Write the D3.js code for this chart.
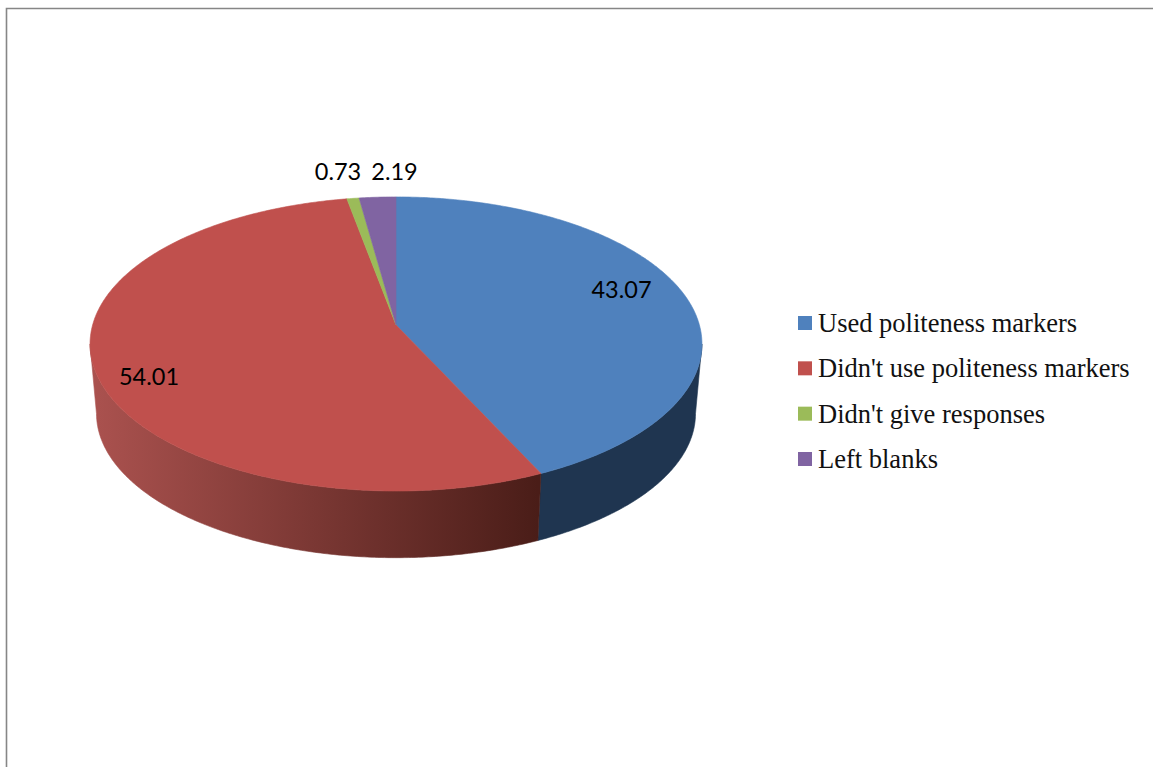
<!DOCTYPE html>
<html>
<head>
<meta charset="utf-8">
<script src="https://cdn.jsdelivr.net/npm/d3@7/dist/d3.min.js"></script>
<style>
  html, body { margin: 0; padding: 0; background: #fff; overflow: hidden; }
  svg { display: block; }
</style>
</head>
<body>
<svg id="chart" width="1153" height="767"></svg>
<script>
const categories = ["Used politeness markers", "Didn't use politeness markers", "Didn't give responses", "Left blanks"];
const values = [43.07, 54.01, 0.73, 2.19];
const sliceColors = ["#4f81bd", "#c0504d", "#9bbb59", "#8064a2"];

const svg = d3.select("#chart");

// Chart-area border: only the top and left edges fall inside the page.
svg.append("path")
  .attr("d", "M6.5,767V8.5H1153")
  .attr("fill", "none")
  .attr("stroke", "#868686")
  .attr("stroke-width", 1.6);

// Perspective projection of the unit disc onto the tilted pie.
const tilt = 0.129;
const topFace = { cx: 396, cy: 325, rx: 303.4, ry: 144.6 };
const baseFace = { cx: 396, cy: 395, rx: 297, ry: 141.7 };
const project = (face, angle) => {
  const u = Math.sin(angle), v = -Math.cos(angle), w = 1 - tilt * v;
  return [face.cx + face.rx * u / w, face.cy + face.ry * v / w];
};
const sweep = (face, a0, a1) => {
  const n = Math.max(2, Math.ceil(Math.abs(a1 - a0) / 0.01));
  return d3.range(n + 1).map(i => project(face, a0 + (a1 - a0) * i / n));
};

const arcs = d3.pie().sort(null).value(d => d)(values);
const line = d3.line();

// Shading along the rim of the large slice.
const rimColor = d3.scaleLinear().domain([90, 538]).range(["#ab524f", "#4a1d18"]);
const grad = svg.append("defs").append("linearGradient")
  .attr("id", "rimShade")
  .attr("gradientUnits", "userSpaceOnUse")
  .attr("x1", rimColor.domain()[0]).attr("x2", rimColor.domain()[1])
  .attr("y1", 0).attr("y2", 0);
grad.selectAll("stop").data(rimColor.domain()).join("stop")
  .attr("offset", (d, i) => i)
  .attr("stop-color", d => rimColor(d));

// Rim walls: only the front half of the disc is visible.
const silhouette = Math.acos(-tilt);
const frontStart = silhouette, frontEnd = 2 * Math.PI - silhouette;
const rimFill = ["#1f3550", "url(#rimShade)"];
arcs.slice(0, 2).forEach((a, i) => {
  const a0 = Math.max(a.startAngle, frontStart), a1 = Math.min(a.endAngle, frontEnd);
  const pts = sweep(topFace, a0, a1).concat(sweep(baseFace, a1, a0));
  svg.append("path").attr("d", line(pts) + "Z")
    .attr("fill", rimFill[i])
    .attr("stroke", rimFill[i])
    .attr("stroke-width", 0.6);
});

// Top faces of the slices; a hairline of the slice colour hides the seams.
svg.append("g").selectAll("path").data(arcs).join("path")
  .attr("d", a => line([[topFace.cx, topFace.cy], ...sweep(topFace, a.startAngle, a.endAngle)]) + "Z")
  .attr("fill", (a, i) => sliceColors[i])
  .attr("stroke", (a, i) => sliceColors[i])
  .attr("stroke-width", 0.6);

// Value labels.
const labelAnchors = [[621.5, 298], [149, 385], [338, 180], [394.5, 180]];
svg.append("g").selectAll("text").data(values).join("text")
  .attr("x", (d, i) => labelAnchors[i][0])
  .attr("y", (d, i) => labelAnchors[i][1])
  .attr("text-anchor", "middle")
  .attr("font-family", "Lato, 'Open Sans', sans-serif")
  .attr("font-size", 23.5)
  .attr("fill", "#000")
  .text(d => d.toFixed(2));

// Legend.
const legendY = d3.scalePoint().domain(categories).range([323, 459]);
const legend = svg.append("g").selectAll("g").data(categories).join("g")
  .attr("transform", d => `translate(798,${legendY(d)})`);
legend.append("rect")
  .attr("y", -7).attr("width", 14).attr("height", 14)
  .attr("fill", (d, i) => sliceColors[i]);
legend.append("text")
  .attr("x", 20).attr("y", 9)
  .attr("font-family", "'Liberation Serif', serif")
  .attr("font-size", 26.5)
  .attr("fill", "#111")
  .text(d => d);
</script>
</body>
</html>
